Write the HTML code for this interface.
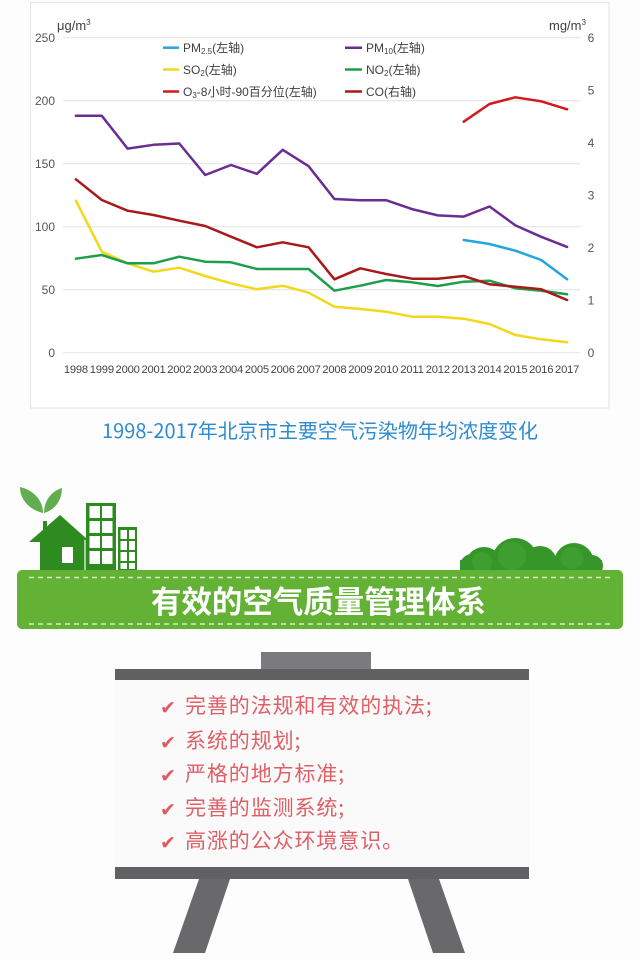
<!DOCTYPE html>
<html>
<head>
<meta charset="utf-8">
<style>
  html,body{margin:0;padding:0;}
  body{width:640px;height:960px;background:#fdfdfd;position:relative;overflow:hidden;
       font-family:"Liberation Sans","Noto Sans CJK SC",sans-serif;}
  .abs{position:absolute;}
  .item{position:absolute;left:160px;color:#e05f66;font-size:21px;line-height:26px;letter-spacing:0.9px;
        font-family:"Noto Sans CJK SC","Liberation Sans",sans-serif;white-space:nowrap;}
  .item .ck{display:inline-block;width:25px;font-size:19px;letter-spacing:0;font-family:"DejaVu Sans",sans-serif;color:#e05a62;vertical-align:-1px;}
</style>
</head>
<body>
<svg class="abs" style="left:0;top:0" width="640" height="960" viewBox="0 0 640 960" xmlns="http://www.w3.org/2000/svg">
  <!-- chart frame -->
  <rect x="30.5" y="2.5" width="578.5" height="405.5" fill="#ffffff" stroke="#e4e4e4" stroke-width="1"/>
  <!-- gridlines -->
  <g stroke="#e2e2e2" stroke-width="1">
    <line x1="63" y1="37.7" x2="580" y2="37.7"/>
    <line x1="63" y1="100.7" x2="580" y2="100.7"/>
    <line x1="63" y1="163.7" x2="580" y2="163.7"/>
    <line x1="63" y1="226.7" x2="580" y2="226.7"/>
    <line x1="63" y1="289.7" x2="580" y2="289.7"/>
    <line x1="63" y1="352.7" x2="580" y2="352.7"/>
  </g>
  <!-- axis units -->
  <g font-family="Liberation Sans, Noto Sans CJK SC, sans-serif" fill="#404040">
    <text x="57" y="30" font-size="13">μg/m<tspan font-size="8" dy="-5">3</tspan></text>
    <text x="549" y="30" font-size="13">mg/m<tspan font-size="8" dy="-5">3</tspan></text>
  </g>
  <!-- left ticks -->
  <g font-family="Liberation Sans, sans-serif" font-size="12" fill="#555" text-anchor="end">
    <text x="55" y="42">250</text>
    <text x="55" y="105">200</text>
    <text x="55" y="168">150</text>
    <text x="55" y="231">100</text>
    <text x="55" y="294">50</text>
    <text x="55" y="357">0</text>
  </g>
  <!-- right ticks -->
  <g font-family="Liberation Sans, sans-serif" font-size="12" fill="#555" text-anchor="middle">
    <text x="591" y="42">6</text>
    <text x="591" y="94.5">5</text>
    <text x="591" y="147">4</text>
    <text x="591" y="199.5">3</text>
    <text x="591" y="252">2</text>
    <text x="591" y="304.5">1</text>
    <text x="591" y="357">0</text>
  </g>
  <!-- year labels -->
  <g font-family="Liberation Sans, sans-serif" font-size="11.2" fill="#444" text-anchor="middle" letter-spacing="-0.2">
    <text x="75.9" y="373">1998</text><text x="101.8" y="373">1999</text><text x="127.6" y="373">2000</text>
    <text x="153.5" y="373">2001</text><text x="179.3" y="373">2002</text><text x="205.2" y="373">2003</text>
    <text x="231.0" y="373">2004</text><text x="256.9" y="373">2005</text><text x="282.7" y="373">2006</text>
    <text x="308.6" y="373">2007</text><text x="334.4" y="373">2008</text><text x="360.3" y="373">2009</text>
    <text x="386.1" y="373">2010</text><text x="412.0" y="373">2011</text><text x="437.8" y="373">2012</text>
    <text x="463.7" y="373">2013</text><text x="489.5" y="373">2014</text><text x="515.4" y="373">2015</text>
    <text x="541.2" y="373">2016</text><text x="567.1" y="373">2017</text>
  </g>
  <!-- legend -->
  <g stroke-width="2.5">
    <line x1="163" y1="47.7" x2="179" y2="47.7" stroke="#22a6dd"/>
    <line x1="345" y1="47.7" x2="362" y2="47.7" stroke="#6a2e92"/>
    <line x1="163" y1="69.5" x2="179" y2="69.5" stroke="#f2d81a"/>
    <line x1="345" y1="69.5" x2="362" y2="69.5" stroke="#1c9e4c"/>
    <line x1="163" y1="91.5" x2="179" y2="91.5" stroke="#d3191c"/>
    <line x1="345" y1="91.5" x2="362" y2="91.5" stroke="#a81a1a"/>
  </g>
  <g font-family="Liberation Sans, Noto Sans CJK SC, sans-serif" font-size="12" fill="#404040">
    <text x="183" y="52">PM<tspan font-size="8" dy="2">2.5</tspan><tspan dy="-2">(左轴)</tspan></text>
    <text x="366" y="52">PM<tspan font-size="8" dy="2">10</tspan><tspan dy="-2">(左轴)</tspan></text>
    <text x="183" y="74">SO<tspan font-size="8" dy="2">2</tspan><tspan dy="-2">(左轴)</tspan></text>
    <text x="366" y="74">NO<tspan font-size="8" dy="2">2</tspan><tspan dy="-2">(左轴)</tspan></text>
    <text x="183" y="96">O<tspan font-size="8" dy="2">3</tspan><tspan dy="-2">-8小时-90百分位(左轴)</tspan></text>
    <text x="366" y="96">CO(右轴)</text>
  </g>
  <!-- series -->
  <g fill="none" stroke-width="2.5" stroke-linejoin="round" stroke-linecap="round">
    <polyline stroke="#22a6dd" points="463.7,240 489.5,244 515.4,250.7 541.2,260 567.1,279.3"/>
    <polyline stroke="#6a2e92" points="75.9,115.8 101.8,115.8 127.6,148.6 153.5,144.8 179.3,143.5 205.2,175.0 231.0,165.0 256.9,173.8 282.7,149.8 308.6,166.2 334.4,199.0 360.3,200.2 386.1,200.2 412.0,209.1 437.8,215.4 463.7,216.6 489.5,206.5 515.4,225.4 541.2,236.8 567.1,246.9"/>
    <polyline stroke="#f2d81a" points="75.9,200.7 101.8,251.7 127.6,263.3 153.5,271.7 179.3,267.7 205.2,276 231.0,283.3 256.9,289.3 282.7,285.7 308.6,292.7 334.4,306.7 360.3,309 386.1,311.7 412.0,316.7 437.8,316.7 463.7,318.7 489.5,324 515.4,335 541.2,339.3 567.1,342.3"/>
    <polyline stroke="#1c9e4c" points="75.9,258.7 101.8,255 127.6,263.3 153.5,263.3 179.3,256.7 205.2,261.7 231.0,262.3 256.9,269 282.7,269 308.6,269 334.4,290.7 360.3,285.7 386.1,280 412.0,282.3 437.8,286 463.7,281.7 489.5,280.7 515.4,288.3 541.2,290.7 567.1,294.3"/>
    <polyline stroke="#d3191c" points="463.7,121.7 489.5,104 515.4,97.3 541.2,101.3 567.1,109.3"/>
    <polyline stroke="#a81a1a" points="75.9,179.3 101.8,200 127.6,210.7 153.5,215 179.3,220.7 205.2,226 231.0,236.7 256.9,247.3 282.7,242.3 308.6,247.3 334.4,279.3 360.3,268.3 386.1,274 412.0,278.7 437.8,278.7 463.7,276 489.5,284.3 515.4,286.7 541.2,289.3 567.1,300"/>
  </g>

  <!-- caption -->
  <text x="102" y="438" textLength="436" lengthAdjust="spacingAndGlyphs" fill="#2d8ccf" font-size="20"
        font-family="Noto Sans CJK SC, Liberation Sans, sans-serif">1998-2017年北京市主要空气污染物年均浓度变化</text>

  <!-- leaves -->
  <path d="M43,513 C30,510 20,500 20,487 C33,490 43,500 43,513 Z" fill="#62ad4f"/>
  <path d="M44,513 C44,500 52,491 62,488 C62,500 55,510 44,513 Z" fill="#62ad4f"/>
  <!-- house -->
  <g fill="#2e8b1f">
    <rect x="43" y="521" width="4" height="10"/>
    <polygon points="60,515 29,542 40,542 40,570 86,570 86,540 88,540"/>
    <rect x="86" y="503" width="30" height="67"/>
    <rect x="118" y="527" width="19" height="43"/>
  </g>
  <rect x="62" y="547" width="11" height="16" fill="#fff"/>
  <line x1="85" y1="540" x2="85" y2="570" stroke="#fff" stroke-width="1.2"/>
  <g fill="#fff">
    <rect x="89.5" y="506" width="10.5" height="12"/><rect x="102" y="506" width="10.5" height="12"/>
    <rect x="89.5" y="521" width="10.5" height="12"/><rect x="102" y="521" width="10.5" height="12"/>
    <rect x="89.5" y="536" width="10.5" height="12"/><rect x="102" y="536" width="10.5" height="12"/>
    <rect x="89.5" y="551" width="10.5" height="13"/><rect x="102" y="551" width="10.5" height="13"/>
    <rect x="120.5" y="530" width="6.5" height="9"/><rect x="129" y="530" width="6" height="9"/>
    <rect x="120.5" y="541" width="6.5" height="9"/><rect x="129" y="541" width="6" height="9"/>
    <rect x="120.5" y="552" width="6.5" height="9"/><rect x="129" y="552" width="6" height="9"/>
    <rect x="120.5" y="563" width="6.5" height="6"/><rect x="129" y="563" width="6" height="6"/>
  </g>
  <!-- bushes -->
  <g fill="#36962a">
    <circle cx="472" cy="566" r="12"/>
    <circle cx="484" cy="566" r="19"/>
    <circle cx="515" cy="561" r="23"/>
    <circle cx="540" cy="563" r="17"/>
    <circle cx="574" cy="563" r="20"/>
    <circle cx="592" cy="566" r="11"/>
    <rect x="460" y="560" width="142" height="11"/>
  </g>
  <g fill="#42a233" opacity="0.7">
    <circle cx="512" cy="556" r="14"/>
    <circle cx="572" cy="558" r="11"/>
    <circle cx="482" cy="562" r="10"/>
  </g>
  <!-- banner -->
  <rect x="17" y="570" width="606" height="59" rx="5" fill="#63b135"/>
  <g stroke="#d6edc4" stroke-width="1.5" stroke-dasharray="5 4">
    <line x1="29" y1="577.5" x2="611" y2="577.5"/>
    <line x1="29" y1="624" x2="611" y2="624"/>
  </g>
  <text x="151" y="613" textLength="335" lengthAdjust="spacingAndGlyphs" fill="#ffffff" font-size="31" font-weight="700"
        font-family="Noto Sans CJK SC, WenQuanYi Zen Hei, sans-serif">有效的空气质量管理体系</text>

  <!-- board -->
  <rect x="261" y="652" width="110" height="18" fill="#7b7b7d"/>
  <rect x="115" y="669" width="414" height="11" fill="#616163"/>
  <rect x="115" y="680" width="414" height="187" fill="#fafafa"/>
  <rect x="115" y="867" width="414" height="12" fill="#616163"/>
  <polygon points="199,879 230,879 205,953 173,953" fill="#69696b"/>
  <polygon points="408,879 439,879 465,953 433,953" fill="#69696b"/>
</svg>

<div class="item" style="top:692px"><span class="ck">✔</span>完善的法规和有效的执法;</div>
<div class="item" style="top:727px"><span class="ck">✔</span>系统的规划;</div>
<div class="item" style="top:760px"><span class="ck">✔</span>严格的地方标准;</div>
<div class="item" style="top:794px"><span class="ck">✔</span>完善的监测系统;</div>
<div class="item" style="top:827px"><span class="ck">✔</span>高涨的公众环境意识。</div>
</body>
</html>
